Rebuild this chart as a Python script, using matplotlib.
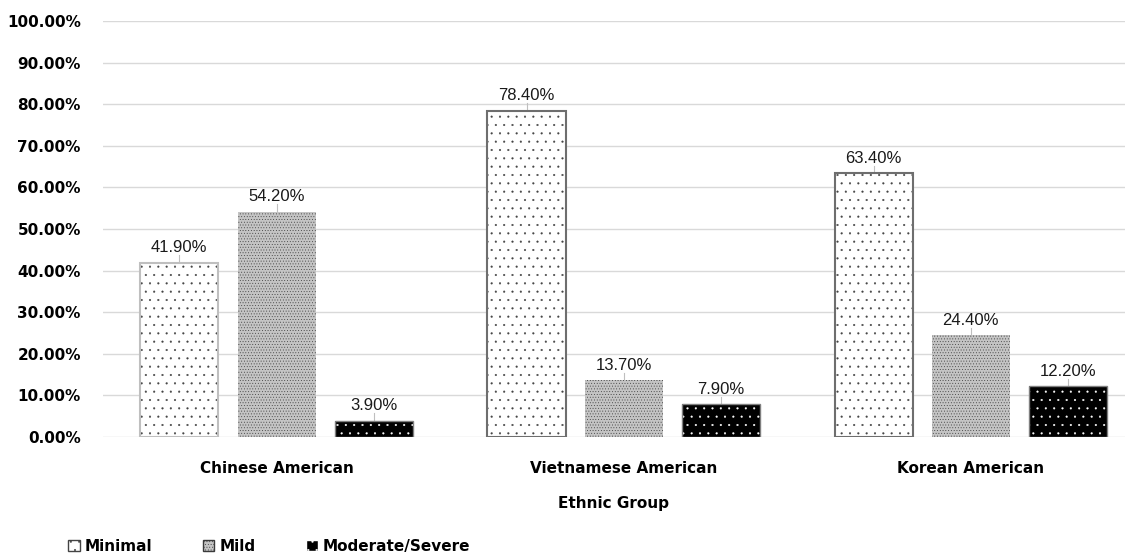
import matplotlib.pyplot as plt
import numpy as np
from matplotlib.patches import Patch

# Data
groups = ['Chinese American', 'Vietnamese American', 'Korean American']
series = ['Minimal', 'Mild', 'Moderate/Severe']
minimal = [41.9, 78.4, 63.4]
mild = [54.2, 13.7, 24.4]
moderate = [3.9, 7.9, 12.2]

plt.rcParams['font.family'] = ['Liberation Sans', 'DejaVu Sans']
plt.rcParams['hatch.linewidth'] = 0.3

fig = plt.figure(figsize=(11.37, 5.53), dpi=100)
ax = fig.add_axes([103 / 1137, 1 - 437 / 553, (1125 - 103) / 1137, (437 - 21) / 553])

x = np.arange(len(groups))
w = 0.225
off = 0.28

# Minimal: white, sparse dots, gray outline
min_edges = ['#bfbfbf', '#6e6e6e', '#6e6e6e']
for i in range(len(groups)):
    ax.bar(x[i] - off, minimal[i], w, color='white', edgecolor='#444444', hatch='..', linewidth=0, zorder=3)
    ax.bar(x[i] - off, minimal[i], w, fill=False, edgecolor=min_edges[i], linewidth=1.5, zorder=4)

# Mild: dense dots on light gray
ax.bar(x, mild, w, color='#c4c4c4', edgecolor='#3a3a3a', hatch='......', linewidth=0, zorder=3)

# Moderate/Severe: black with white dots
ax.bar(x + off, moderate, w, color='black', edgecolor='white', hatch='..', linewidth=0, zorder=3)
ax.bar(x + off, moderate, w, fill=False, edgecolor='#7f7f7f', linewidth=1.0, zorder=4)

# data labels with short leader lines
for vals, dx in [(minimal, -off), (mild, 0), (moderate, off)]:
    for i, v in enumerate(vals):
        ax.plot([x[i] + dx, x[i] + dx], [v, v + 1.8], color='#bfbfbf', lw=0.8, zorder=2)
        ax.text(x[i] + dx, v + 1.8, f'{v:.2f}%', ha='center', va='bottom', fontsize=12, color='#1a1a1a')

ax.set_ylim(0, 100)
ax.set_xlim(-0.5, 2.444)
ax.set_yticks(np.arange(0, 101, 10))
ax.set_yticklabels([f'{t:.2f}%' for t in np.arange(0, 101, 10)],
                   fontfamily='DejaVu Sans', fontweight='bold', fontsize=11)
ax.set_xticks(x)
ax.set_xticklabels(groups, fontfamily='DejaVu Sans', fontweight='bold', fontsize=11)
ax.tick_params(axis='y', length=0, pad=16)
ax.tick_params(axis='x', length=0, pad=17)
ax.set_xlabel('Ethnic Group', fontfamily='DejaVu Sans', fontweight='bold', fontsize=11, labelpad=15)
ax.grid(axis='y', color='#d9d9d9', lw=1, zorder=0)
ax.set_axisbelow(True)
for s in ax.spines.values():
    s.set_visible(False)

handles = [
    Patch(facecolor='white', edgecolor='#444444', hatch='..', label=series[0]),
    Patch(facecolor='#c4c4c4', edgecolor='#3a3a3a', hatch='......', label=series[1]),
    Patch(facecolor='black', edgecolor='white', hatch='..', label=series[2]),
]
fig.legend(handles=handles, loc='lower left', bbox_to_anchor=(62 / 1137, -0.012), ncol=3, frameon=False,
           handlelength=0.75, handleheight=0.75, handletextpad=0.35, columnspacing=3.3,
           prop={'family': 'DejaVu Sans', 'weight': 'bold', 'size': 11}, borderaxespad=0.0)

fig.savefig('out.png', dpi=100)
